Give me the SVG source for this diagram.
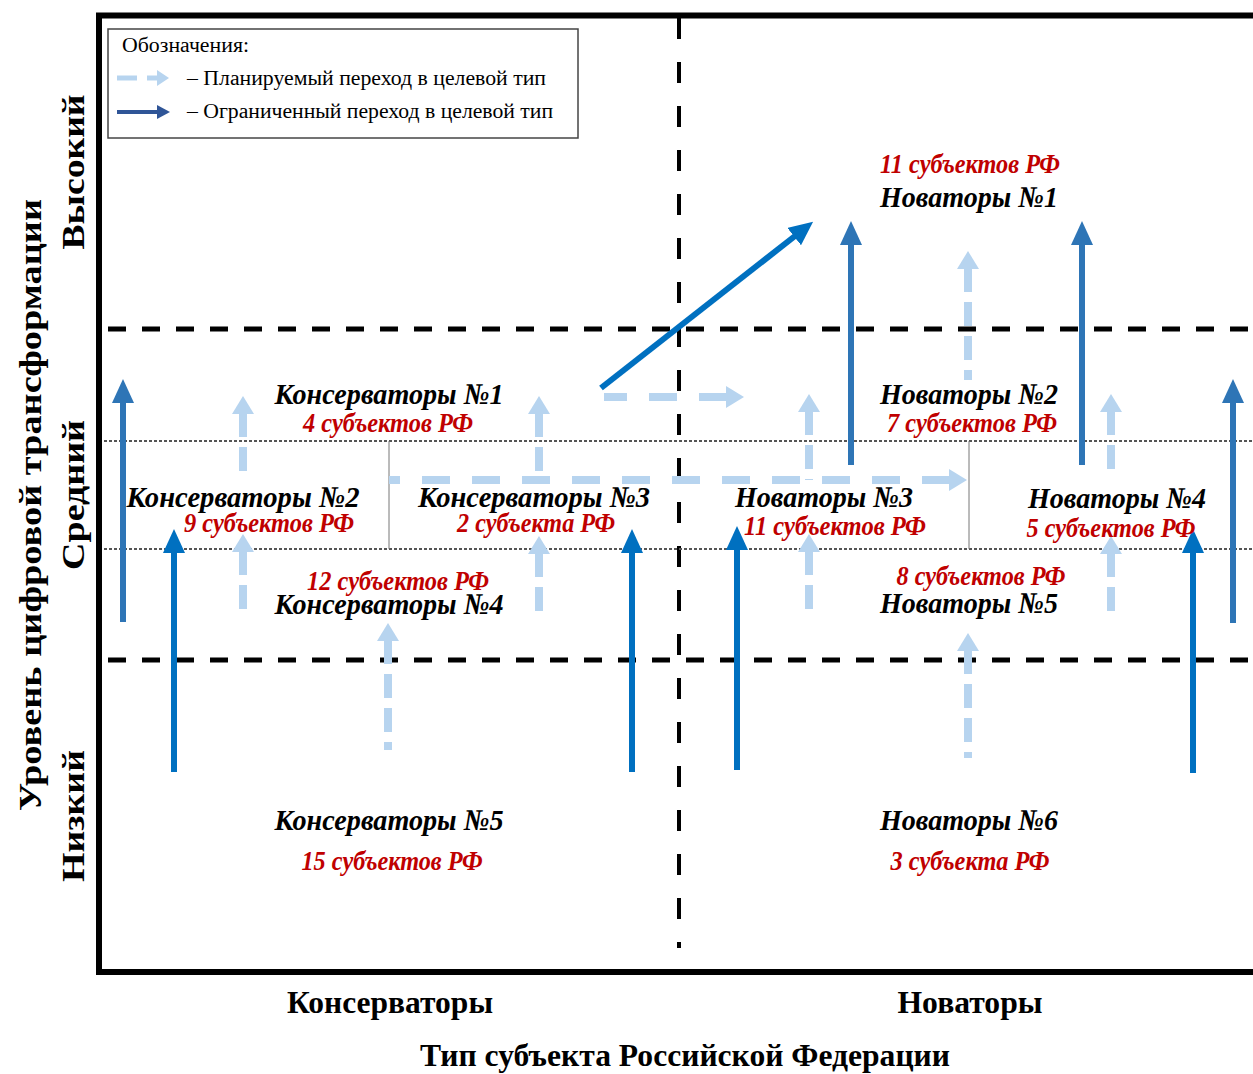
<svg xmlns="http://www.w3.org/2000/svg" width="1253" height="1074" viewBox="0 0 1253 1074">
<style>
.lbl{font-family:"Liberation Serif",serif;font-weight:bold;font-style:italic;font-size:30px;fill:#000;text-anchor:middle}
.cnt{font-family:"Liberation Serif",serif;font-weight:bold;font-style:italic;font-size:27px;fill:#C00000;text-anchor:middle}
.ax{font-family:"Liberation Serif",serif;font-weight:bold;font-size:32px;fill:#000;text-anchor:middle}
.leg{font-family:"Liberation Serif",serif;font-size:20px;fill:#000}
.hd{fill:none;stroke:#000;stroke-width:5;stroke-dasharray:18 16}
.vd{fill:none;stroke:#000;stroke-width:4;stroke-dasharray:21 23}
.dot{fill:none;stroke:#555;stroke-width:2;stroke-dasharray:3 2}
.thin{fill:none;stroke:#777;stroke-width:1}
.sb{fill:none;stroke:#0070C0;stroke-width:6;marker-end:url(#hb)}
.sm{fill:none;stroke:#2E75B6;stroke-width:6;marker-end:url(#hm)}
.lv{fill:none;stroke:#B7D4EF;stroke-width:8;stroke-dasharray:24 10;marker-start:url(#hl)}
.lh{fill:none;stroke:#B7D4EF;stroke-width:8;stroke-dasharray:28 22;marker-start:url(#hl)}
</style>
<defs>
<marker id="hb" markerUnits="userSpaceOnUse" viewBox="0 0 24 22" markerWidth="24" markerHeight="22" refX="1" refY="11" orient="auto"><path d="M0,0 L24,11 L0,22 z" fill="#0070C0"/></marker>
<marker id="hm" markerUnits="userSpaceOnUse" viewBox="0 0 24 22" markerWidth="24" markerHeight="22" refX="1" refY="11" orient="auto"><path d="M0,0 L24,11 L0,22 z" fill="#2E75B6"/></marker>
<marker id="hl" markerUnits="userSpaceOnUse" viewBox="0 0 18 22" markerWidth="18" markerHeight="22" refX="1" refY="11" orient="auto-start-reverse"><path d="M0,0 L18,11 L0,22 z" fill="#B7D4EF"/></marker>
<marker id="hls" markerUnits="userSpaceOnUse" viewBox="0 0 12 16" markerWidth="12" markerHeight="16" refX="1" refY="8" orient="auto"><path d="M0,0 L12,8 L0,16 z" fill="#B7D4EF"/></marker>
<marker id="hds" markerUnits="userSpaceOnUse" viewBox="0 0 13 14" markerWidth="13" markerHeight="14" refX="1" refY="7" orient="auto"><path d="M0,0 L13,7 L0,14 z" fill="#2F5597"/></marker>
</defs>
<rect width="1253" height="1074" fill="#fff"/>

<g id="grid">
<path d="M99,13 V975 M96,15.5 H1253 M96,972 H1253" fill="none" stroke="#000" stroke-width="6"/>
<path class="vd" d="M679,18 V948"/>
<path class="hd" d="M108,329 H1253 M108,660 H1253"/>
<path class="dot" d="M104,441 H1253 M104,549 H1253"/>
<path class="thin" d="M389,441 V549 M969,441 V549"/>
</g>

<g id="legend">
<rect x="108" y="29" width="470" height="109" fill="#fff" stroke="#444" stroke-width="1.5"/>
<text class="leg" x="122" y="52" textLength="127" lengthAdjust="spacingAndGlyphs">Обозначения:</text>
<path d="M117,78 H137" stroke="#B7D4EF" stroke-width="5" fill="none"/>
<path d="M147,78 H158" stroke="#B7D4EF" stroke-width="5" fill="none" marker-end="url(#hls)"/>
<text class="leg" x="187" y="85" textLength="359" lengthAdjust="spacingAndGlyphs">– Планируемый переход в целевой тип</text>
<path d="M117,112 H158" stroke="#2F5597" stroke-width="4" fill="none" marker-end="url(#hds)"/>
<text class="leg" x="187" y="118" textLength="366" lengthAdjust="spacingAndGlyphs">– Ограниченный переход в целевой тип</text>
</g>

<g id="connectors">
<path class="sm" d="M123,622 V402"/>
<path class="sb" d="M174,772 V552"/>
<path class="sb" d="M632,772 V552"/>
<path class="sb" d="M737,770 V549"/>
<path class="sb" d="M1193,773 V552"/>
<path class="sm" d="M1233,623 V402"/>
<path class="sm" d="M851,465 V244"/>
<path class="sm" d="M1082,465 V244"/>
<path class="sb" d="M601,388 L795,236"/>
<path class="lv" d="M243,413 V477"/>
<path class="lv" d="M243,551 V618"/>
<path class="lv" d="M539,413 V480"/>
<path class="lv" d="M539,553 V620"/>
<path class="lv" d="M388,640 V750"/>
<path class="lv" d="M809,411 V480"/>
<path class="lv" d="M809,551 V612"/>
<path class="lv" d="M1111,411 V475"/>
<path class="lv" d="M1111,553 V614"/>
<path class="lv" d="M968,650 V758"/>
<path class="lv" d="M968,268 V380"/>
<path class="lh" d="M727,397 H604"/>
<path class="lh" d="M950,480 H389"/>
</g>

<g id="axes">
<text class="ax" x="390" y="1013" textLength="206" lengthAdjust="spacingAndGlyphs">Консерваторы</text>
<text class="ax" x="970" y="1013" textLength="145" lengthAdjust="spacingAndGlyphs">Новаторы</text>
<text class="ax" x="685" y="1066" textLength="530" lengthAdjust="spacingAndGlyphs">Тип субъекта Российской Федерации</text>
<text class="ax" transform="translate(41,505) rotate(-90)" x="0" y="0" textLength="612" lengthAdjust="spacingAndGlyphs">Уровень цифровой трансформации</text>
<text class="ax" transform="translate(84,172) rotate(-90)" x="0" y="0" textLength="155" lengthAdjust="spacingAndGlyphs">Высокий</text>
<text class="ax" transform="translate(84,495) rotate(-90)" x="0" y="0" textLength="150" lengthAdjust="spacingAndGlyphs">Средний</text>
<text class="ax" transform="translate(84,816) rotate(-90)" x="0" y="0" textLength="132" lengthAdjust="spacingAndGlyphs">Низкий</text>
</g>

<g id="nov1"><text class="cnt" x="970" y="173" textLength="180" lengthAdjust="spacingAndGlyphs">11 субъектов РФ</text><text class="lbl" x="969" y="207" textLength="178" lengthAdjust="spacingAndGlyphs">Новаторы №1</text></g>
<g id="kons1"><text class="lbl" x="389" y="404" textLength="229" lengthAdjust="spacingAndGlyphs">Консерваторы №1</text><text class="cnt" x="388" y="432" textLength="170" lengthAdjust="spacingAndGlyphs">4 субъектов РФ</text></g>
<g id="nov2"><text class="lbl" x="969" y="404" textLength="178" lengthAdjust="spacingAndGlyphs">Новаторы №2</text><text class="cnt" x="972" y="432" textLength="170" lengthAdjust="spacingAndGlyphs">7 субъектов РФ</text></g>
<g id="kons2"><text class="lbl" x="243" y="507" textLength="233" lengthAdjust="spacingAndGlyphs">Консерваторы №2</text><text class="cnt" x="269" y="532" textLength="170" lengthAdjust="spacingAndGlyphs">9 субъектов РФ</text></g>
<g id="kons3"><text class="lbl" x="534" y="507" textLength="232" lengthAdjust="spacingAndGlyphs">Консерваторы №3</text><text class="cnt" x="536" y="532" textLength="158" lengthAdjust="spacingAndGlyphs">2 субъекта РФ</text></g>
<g id="nov3"><text class="lbl" x="824" y="507" textLength="178" lengthAdjust="spacingAndGlyphs">Новаторы №3</text><text class="cnt" x="835" y="535" textLength="182" lengthAdjust="spacingAndGlyphs">11 субъектов РФ</text></g>
<g id="nov4"><text class="lbl" x="1117" y="508" textLength="178" lengthAdjust="spacingAndGlyphs">Новаторы №4</text><text class="cnt" x="1111" y="537" textLength="169" lengthAdjust="spacingAndGlyphs">5 субъектов РФ</text></g>
<g id="kons4"><text class="cnt" x="398" y="590" textLength="182" lengthAdjust="spacingAndGlyphs">12 субъектов РФ</text><text class="lbl" x="389" y="614" textLength="229" lengthAdjust="spacingAndGlyphs">Консерваторы №4</text></g>
<g id="nov5"><text class="cnt" x="981" y="585" textLength="169" lengthAdjust="spacingAndGlyphs">8 субъектов РФ</text><text class="lbl" x="969" y="613" textLength="178" lengthAdjust="spacingAndGlyphs">Новаторы №5</text></g>
<g id="kons5"><text class="lbl" x="389" y="830" textLength="229" lengthAdjust="spacingAndGlyphs">Консерваторы №5</text><text class="cnt" x="392" y="870" textLength="181" lengthAdjust="spacingAndGlyphs">15 субъектов РФ</text></g>
<g id="nov6"><text class="lbl" x="969" y="830" textLength="178" lengthAdjust="spacingAndGlyphs">Новаторы №6</text><text class="cnt" x="970" y="870" textLength="159" lengthAdjust="spacingAndGlyphs">3 субъекта РФ</text></g>
</svg>
